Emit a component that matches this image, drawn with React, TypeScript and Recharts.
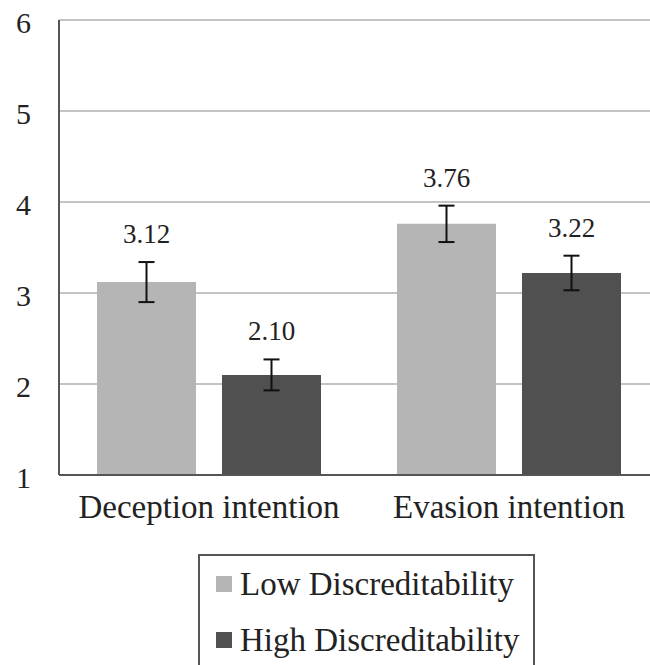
import { BarChart, Bar, XAxis, YAxis, CartesianGrid, ErrorBar, LabelList } from "recharts"

const categories = ["Deception intention", "Evasion intention"]
const lowValues = [3.12, 3.76]
const highValues = [2.1, 3.22]
const lowErrors = [0.22, 0.2]
const highErrors = [0.17, 0.19]
const yTicks = [1, 2, 3, 4, 5, 6]

const seriesNames = ["Low Discreditability", "High Discreditability"]
const seriesColors = ["#b5b5b5", "#505050"]

const FONT = "Liberation Serif, DejaVu Serif, serif"

const data = categories.map((name, i) => ({
  name,
  low: lowValues[i],
  high: highValues[i],
  lowErr: lowErrors[i],
  highErr: highErrors[i],
}))

// label sits above the error bar cap
const makeLabel = (errs: number[]) => (props: any) => {
  const { x, y, width, height, value, index } = props
  const perUnit = height / (Number(value) - 1)
  const capTop = y - errs[index] * perUnit
  return (
    <text
      x={x + width / 2}
      y={capTop - 19}
      textAnchor="middle"
      style={{ fontFamily: FONT, fontSize: 27 }}
      fill="#222"
    >
      {Number(value).toFixed(2)}
    </text>
  )
}

export default function App() {
  return (
    <div style={{ position: "absolute", left: 0, top: 0, width: 650, height: 665, overflow: "hidden", background: "#fff", fontFamily: FONT }}>
      <BarChart
        width={659}
        height={665}
        data={data}
        margin={{ top: 20, right: 0, left: 0, bottom: 140 }}
        barCategoryGap={38}
        barGap={26}
        style={{ fontFamily: FONT }}
      >
        <CartesianGrid horizontal vertical={false} stroke="#c4c4c4" strokeWidth={2} />
        <XAxis
          dataKey="name"
          height={50}
          axisLine={{ stroke: "#555", strokeWidth: 2 }}
          tickLine={false}
          tickSize={0}
          tickMargin={20}
          tick={{ fontSize: 33, fill: "#222", style: { fontFamily: FONT } }}
          interval={0}
        />
        <YAxis
          width={59}
          domain={[1, 6]}
          ticks={yTicks}
          allowDataOverflow
          axisLine={{ stroke: "#555", strokeWidth: 2 }}
          tickLine={false}
          tickSize={0}
          tickMargin={28}
          tick={{ fontSize: 30, fill: "#222", dy: 2, style: { fontFamily: FONT } }}
        />
        <Bar dataKey="low" fill={seriesColors[0]} isAnimationActive={false}>
          <ErrorBar dataKey="lowErr" width={8} strokeWidth={2} stroke="#111" direction="y" />
          <LabelList dataKey="low" content={makeLabel(lowErrors)} />
        </Bar>
        <Bar dataKey="high" fill={seriesColors[1]} isAnimationActive={false}>
          <ErrorBar dataKey="highErr" width={8} strokeWidth={2} stroke="#111" direction="y" />
          <LabelList dataKey="high" content={makeLabel(highErrors)} />
        </Bar>
      </BarChart>

      <div
        style={{
          position: "absolute",
          left: 198,
          top: 554,
          width: 333,
          height: 130,
          border: "2px solid #555",
          fontFamily: FONT,
          fontSize: 33,
          color: "#222",
        }}
      >
        {seriesNames.map((name, i) => (
          <div key={name} style={{ position: "absolute", left: 16, top: 8 + i * 56, height: 40, display: "flex", alignItems: "center", whiteSpace: "nowrap" }}>
            <span style={{ display: "inline-block", width: 16, height: 16, background: seriesColors[i], marginRight: 8 }} />
            <span style={{ lineHeight: "40px" }}>{name}</span>
          </div>
        ))}
      </div>
    </div>
  )
}
